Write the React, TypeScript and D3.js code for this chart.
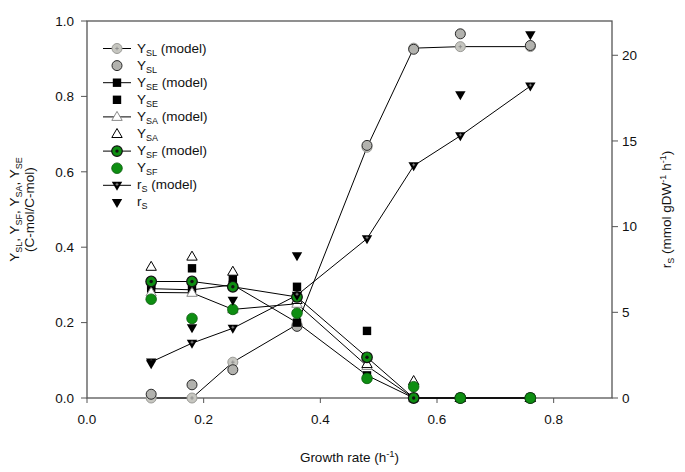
import React from "react";
import * as d3 from "d3";

const growth = [0.11, 0.18, 0.25, 0.36, 0.48, 0.56, 0.64, 0.76];
const ySLModel = [0, 0, 0.095, 0.195, 0.665, 0.928, 0.932, 0.932];
const ySLData = [0.01, 0.035, 0.075, 0.19, 0.67, 0.925, 0.966, 0.935];
const ySEModel = [0.29, 0.287, 0.3, 0.2, 0.06, 0, 0, 0];
const ySEData = [0.3, 0.344, 0.317, 0.295, 0.178, 0, 0, 0];
const ySAModel = [0.28, 0.279, 0.235, 0.25, 0.085, 0, 0, 0];
const ySAData = [0.348, 0.375, 0.335, 0.26, 0.09, 0.045, 0, 0];
const ySFModel = [0.309, 0.309, 0.295, 0.268, 0.108, 0, 0, 0];
const ySFData = [0.262, 0.211, 0.235, 0.225, 0.052, 0.03, 0, 0];
const rSModel = [2.1, 3.2, 4.07, 6.0, 9.3, 13.55, 15.3, 18.2];
const rSData = [2.0, 4.1, 5.7, 8.3, null, null, 17.7, 21.2];

const xTicks = [0, 0.2, 0.4, 0.6, 0.8];
const yLeftTicks = [0, 0.2, 0.4, 0.6, 0.8, 1.0];
const yRightTicks = [0, 5, 10, 15, 20];

const W = 685, H = 472;
const L = 87, R = 612, T = 21, B = 398;
const GREEN = "#0e8e12";
const AXIS = "#555";
const FONT = "Liberation Sans, Arial, sans-serif";

const x = d3.scaleLinear().domain([0, 0.9]).range([L, R]);
const yL = d3.scaleLinear().domain([0, 1]).range([B, T]);
const yR = d3.scaleLinear().domain([0, 22]).range([B, T]);

type Kind = "slm" | "sl" | "sem" | "se" | "sam" | "sa" | "sfm" | "sf" | "rsm" | "rs";

function Marker({ kind, cx, cy }: { kind: Kind; cx: number; cy: number }) {
  const up = `M${cx},${cy - 5.5} L${cx + 5.2},${cy + 3.5} L${cx - 5.2},${cy + 3.5} Z`;
  const down = `M${cx},${cy + 5.5} L${cx + 5.2},${cy - 3.5} L${cx - 5.2},${cy - 3.5} Z`;
  switch (kind) {
    case "slm":
      return (
        <g>
          <circle cx={cx} cy={cy} r={5} fill="#c6c6c0" stroke="#9a9a96" strokeWidth={1} />
          <path d={`M${cx - 1.8},${cy} H${cx + 1.8} M${cx},${cy - 1.8} V${cy + 1.8}`} stroke="#888" strokeWidth={0.8} />
        </g>
      );
    case "sl":
      return <circle cx={cx} cy={cy} r={5} fill="#b2b2ae" stroke="#2a2a2a" strokeWidth={1} />;
    case "sem":
    case "se":
      return <rect x={cx - 4.2} y={cy - 4.2} width={8.4} height={8.4} fill="#000" />;
    case "sam":
      return <path d={up} fill="#fff" stroke="#8a8a8a" strokeWidth={1} />;
    case "sa":
      return <path d={up} fill="#fff" stroke="#000" strokeWidth={1} />;
    case "sfm":
      return (
        <g>
          <circle cx={cx} cy={cy} r={5.3} fill={GREEN} stroke="#111" strokeWidth={1.2} />
          <circle cx={cx} cy={cy} r={1.7} fill="#111" />
        </g>
      );
    case "sf":
      return <circle cx={cx} cy={cy} r={5.3} fill={GREEN} stroke="#0a5a0c" strokeWidth={0.8} />;
    case "rsm":
      return (
        <g>
          <path d={down} fill="#000" />
          <path d={`M${cx - 1.5},${cy - 1} H${cx + 1.5} M${cx},${cy - 2.5} V${cy + 0.5}`} stroke="#999" strokeWidth={0.8} />
        </g>
      );
    case "rs":
      return <path d={down} fill="#000" />;
  }
  return null;
}

type Series = { kind: Kind; vals: (number | null)[]; right?: boolean; line?: boolean; sub: string; pre: string; model: boolean };

const series: Series[] = [
  { kind: "slm", vals: ySLModel, line: true, pre: "Y", sub: "SL", model: true },
  { kind: "sl", vals: ySLData, pre: "Y", sub: "SL", model: false },
  { kind: "sem", vals: ySEModel, line: true, pre: "Y", sub: "SE", model: true },
  { kind: "se", vals: ySEData, pre: "Y", sub: "SE", model: false },
  { kind: "sam", vals: ySAModel, line: true, pre: "Y", sub: "SA", model: true },
  { kind: "sa", vals: ySAData, pre: "Y", sub: "SA", model: false },
  { kind: "sfm", vals: ySFModel, line: true, pre: "Y", sub: "SF", model: true },
  { kind: "sf", vals: ySFData, pre: "Y", sub: "SF", model: false },
  { kind: "rsm", vals: rSModel, line: true, right: true, pre: "r", sub: "S", model: true },
  { kind: "rs", vals: rSData, right: true, pre: "r", sub: "S", model: false },
];

export default function App() {
  const lineGen = (s: Series) => {
    const ys = s.right ? yR : yL;
    return d3
      .line<number | null>()
      .defined((d) => d !== null)
      .x((_, i) => x(growth[i]))
      .y((d) => ys(d as number))(s.vals) || "";
  };
  const legY0 = 48.5, legDy = 17.1;
  return (
    <svg width={W} height={H} style={{ position: "absolute", left: 0, top: 0, background: "#fff" }} fontFamily={FONT}>
      {/* frame */}
      <rect x={L} y={T} width={R - L} height={B - T} fill="none" stroke={AXIS} strokeWidth={1.3} />
      {/* x ticks */}
      {xTicks.map((t) => (
        <g key={"x" + t}>
          <line x1={x(t)} x2={x(t)} y1={B} y2={B + 5} stroke={AXIS} strokeWidth={1} />
          <text x={x(t)} y={B + 26} textAnchor="middle" fontSize={13.5} fill="#111">{d3.format(".1f")(t)}</text>
        </g>
      ))}
      {yLeftTicks.map((t) => (
        <g key={"yl" + t}>
          <line x1={L - 6} x2={L} y1={yL(t)} y2={yL(t)} stroke={AXIS} strokeWidth={1} />
          <text x={L - 13} y={yL(t) + 4.8} textAnchor="end" fontSize={13.5} fill="#111">{d3.format(".1f")(t)}</text>
        </g>
      ))}
      {yRightTicks.map((t) => (
        <g key={"yr" + t}>
          <line x1={R} x2={R + 6} y1={yR(t)} y2={yR(t)} stroke={AXIS} strokeWidth={1} />
          <text x={R + 10} y={yR(t) + 4.8} textAnchor="start" fontSize={13.5} fill="#111">{t}</text>
        </g>
      ))}
      {/* axis titles */}
      <text x={(L + R) / 2} y={462} textAnchor="middle" fontSize={13.5} fill="#111">
        <tspan>Growth rate (h</tspan>
        <tspan dy={-5} fontSize={9.5}>-1</tspan>
        <tspan dy={5}>)</tspan>
      </text>
      <g transform={`translate(19, ${(T + B) / 2}) rotate(-90)`}>
        <text textAnchor="middle" fontSize={13.5} fill="#111">
          <tspan>Y</tspan><tspan dy={3} fontSize={9}>SL</tspan>
          <tspan dy={-3}>, Y</tspan><tspan dy={3} fontSize={9}>SF</tspan>
          <tspan dy={-3}>, Y</tspan><tspan dy={3} fontSize={9}>SA</tspan>
          <tspan dy={-3}>, Y</tspan><tspan dy={3} fontSize={9}>SE</tspan>
        </text>
        <text y={15} textAnchor="middle" fontSize={13.5} fill="#111">(C-mol/C-mol)</text>
      </g>
      <g transform={`translate(671, ${(T + B) / 2}) rotate(-90)`}>
        <text textAnchor="middle" fontSize={13.5} fill="#111">
          <tspan>r</tspan><tspan dy={3} fontSize={9}>S</tspan>
          <tspan dy={-3}> (mmol gDW</tspan><tspan dy={-5} fontSize={9}>-1</tspan>
          <tspan dy={5}> h</tspan><tspan dy={-5} fontSize={9}>-1</tspan>
          <tspan dy={5}>)</tspan>
        </text>
      </g>
      {/* lines */}
      {series.filter((s) => s.line).map((s) => (
        <path key={"l" + s.kind} d={lineGen(s)} fill="none" stroke="#000" strokeWidth={1} />
      ))}
      {/* markers */}
      {series.map((s) =>
        s.vals.map((v, i) =>
          v === null ? null : (
            <Marker key={s.kind + i} kind={s.kind} cx={x(growth[i])} cy={(s.right ? yR : yL)(v)} />
          )
        )
      )}
      {/* legend */}
      {series.map((s, i) => {
        const cy = legY0 + i * legDy;
        return (
          <g key={"lg" + s.kind}>
            {s.model && <line x1={103} x2={131} y1={cy} y2={cy} stroke="#000" strokeWidth={1} />}
            <Marker kind={s.kind} cx={117} cy={cy} />
            <text x={137} y={cy + 4} fontSize={13.5} fill="#111">
              <tspan>{s.pre}</tspan>
              <tspan dy={3} fontSize={9}>{s.sub}</tspan>
              {s.model && <tspan dy={-3}> (model)</tspan>}
            </text>
          </g>
        );
      })}
    </svg>
  );
}
